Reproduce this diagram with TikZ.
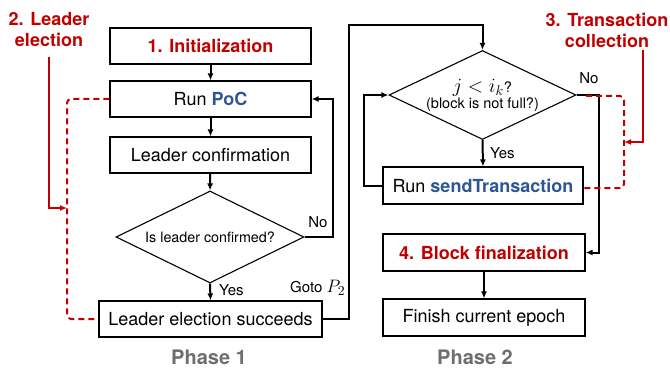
\documentclass[tikz,border=0pt]{standalone}
\usepackage{graphicx}
\usepackage{fontspec}
\setmainfont{TeX Gyre Heros}
\usetikzlibrary{shapes.geometric,arrows.meta}
\definecolor{myred}{HTML}{C00000}
\definecolor{myblue}{HTML}{2F5597}
\definecolor{mygray}{HTML}{6E6E6E}
\begin{document}
\begin{tikzpicture}[x=1pt,y=-1pt,
  box/.style={draw,line width=1.1pt,minimum height=36pt,inner sep=0pt,font=\fontsize{18}{21}\selectfont},
  dia/.style={draw,diamond,line width=1.1pt,inner sep=0pt,align=center},
  arr/.style={line width=2pt,-{Latex[length=7pt,width=6pt]}},
  redarr/.style={line width=2pt,myred,-{Latex[length=7pt,width=6pt]}},
  reddash/.style={line width=2pt,myred,dash pattern=on 6pt off 4pt,rounded corners=4pt},
  lbl/.style={font=\fontsize{15}{18}\selectfont,inner sep=0pt},
  redlbl/.style={font=\fontsize{18}{21}\selectfont\bfseries,text=myred,align=center,inner sep=0pt},
  phase/.style={font=\fontsize{20}{24}\selectfont\bfseries,text=mygray,inner sep=0pt}]
\useasboundingbox (0,0) rectangle (670,369);
% Phase 1
\node[box,minimum width=201pt] (init) at (210.5,46) {\textcolor{myred}{\bfseries 1. Initialization}};
\node[box,minimum width=201pt] (poc) at (210.5,99) {Run \textcolor{myblue}{\bfseries PoC}};
\node[box,minimum width=201pt] (conf) at (210.5,155) {Leader confirmation};
\node[dia,shape aspect=2.04,minimum width=188pt,minimum height=92pt,font=\fontsize{14.3}{17}\selectfont] (d1) at (210,237) {Is leader confirmed?};
\node[box,minimum width=223pt] (les) at (210.5,319) {Leader election succeeds};
\node[phase] (ph1) at (209,357) {Phase 1};
% Phase 2
\node[dia,shape aspect=2.1,minimum width=187pt,minimum height=89pt,font=\fontsize{14.5}{17}\selectfont] (d2) at (482.5,95) {\scalebox{1.4}{$j < i_k$}?\\[-1pt](block is not full?)};
\node[box,minimum width=200pt,minimum height=37pt] (send) at (483,185.5) {Run \textcolor{myblue}{\bfseries sendTransaction}};
\node[box,minimum width=202pt,minimum height=37pt] (block) at (484,252.5) {\textcolor{myred}{\bfseries 4. Block finalization}};
\node[box,minimum width=202pt,minimum height=37pt] (finish) at (484,317.5) {Finish current epoch};
\node[phase] (ph2) at (475,357) {Phase 2};
% connectors phase 1
\draw[arr] (init) -- (poc);
\draw[arr] (poc) -- (conf);
\draw[arr] (conf) -- (d1.north);
\draw[arr] (d1.south) -- (les.north);
\node[lbl,anchor=west] (yes1) at (219,290) {Yes};
\coordinate (noA) at (333,237);
\draw[arr] (d1.east) -- (noA) |- (poc.east);
\node[lbl] (no1) at (318,222) {No};
\coordinate (gA) at (349,25);
\draw[arr] (les.east) -| (gA) -| (d2.north);
\node[lbl,anchor=west] (goto) at (290,288) {Goto \scalebox{1.25}{$P_2$}};
% connectors phase 2
\draw[arr] (d2.south) -- (send.north);
\node[lbl,anchor=west] (yes2) at (490,153) {Yes};
\coordinate (lpA) at (364,185.5);
\draw[arr] (send.west) -- (lpA) |- (d2.west);
\coordinate (nxA) at (599,95);
\draw[arr] (d2.east) -- (nxA) |- (block.east);
\node[lbl] (no2) at (589,78) {No};
\draw[arr] (block) -- (finish);
% red annotations
\node[redlbl] (lab2) at (49,30) {2. Leader\\election};
\coordinate (r2a) at (49,57);
\coordinate (r2b) at (49,208);
\coordinate (r2c) at (67,208);
\draw[redarr] (r2a) -- (r2b) -- (r2c);
\coordinate (d2a) at (67,99);
\coordinate (d2b) at (67,319);
\draw[reddash] (poc.west) -- (d2a) -- (d2b) -- (les.west);
\node[redlbl] (lab3) at (607,30) {3. Transaction\\collection};
\coordinate (r3a) at (643,50);
\coordinate (r3b) at (643,142);
\coordinate (r3c) at (624,142);
\draw[redarr] (r3a) -- (r3b) -- (r3c);
\coordinate (d3s) at (586,96);
\coordinate (d3a) at (624,96);
\coordinate (d3b) at (624,188);
\coordinate (d3c) at (583,188);
\draw[reddash] (d3s) -- (d3a) -- (d3b) -- (d3c);
\end{tikzpicture}
\end{document}
